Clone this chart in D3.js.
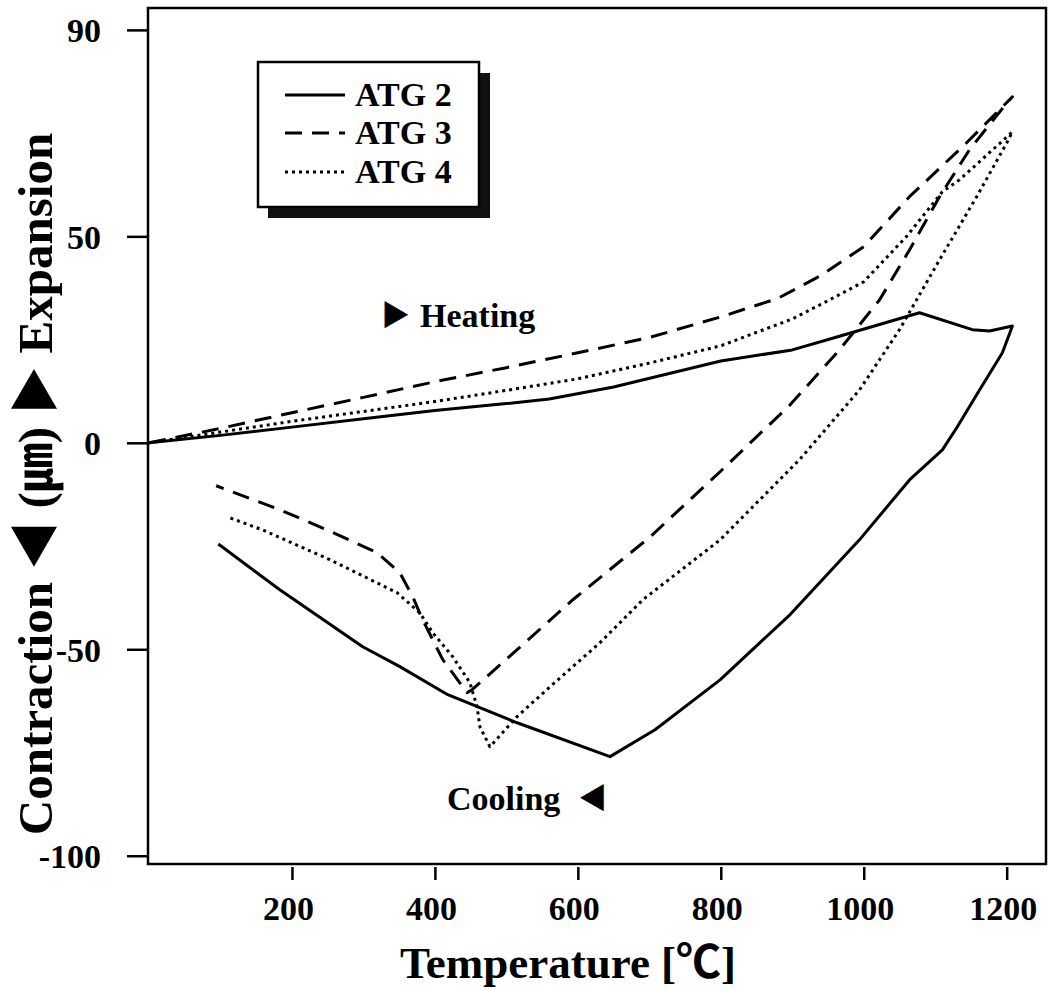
<!DOCTYPE html>
<html>
<head>
<meta charset="utf-8">
<script src="https://cdn.jsdelivr.net/npm/d3@7"></script>
<style>
  html, body { margin: 0; padding: 0; background: #fff; }
  svg { display: block; }
  text { font-family: "Liberation Serif", "Times New Roman", "Noto Sans CJK JP", serif; font-weight: bold; fill: #000; }
</style>
</head>
<body>
<svg id="chart" width="1054" height="991"></svg>
<script>
// ---------------- data ----------------
const xTicks = [200, 400, 600, 800, 1000, 1200];
const xTickLabels = ["200", "400", "600", "800", "1000", "1200"];
const yTicks = [-100, -50, 0, 50, 100];
const yTickLabels = ["-100", "-50", "0", "50", "90"];

const seriesNames = ["ATG 2", "ATG 3", "ATG 4"];

// ATG 2 (solid): [temperature, displacement]
const atg2Heating = [[0,0],[100,1.8],[200,3.8],[300,5.8],[400,7.8],[500,9.5],[560,10.6],[650,13.5],[800,19.8],[900,22.5],[960,25.5],[1078,31.5],[1152,27.4],[1176,27.1],[1208,28.3]];
const atg2Cooling = [[1208,28.3],[1194,21.8],[1162,12.8],[1131,3.9],[1110,-1.7],[1064,-9.0],[994,-23.5],[897,-41.6],[799,-57.4],[708,-69.5],[645,-76.0],[515,-67.8],[418,-61.0],[351,-54.2],[299,-49.4],[183,-35.6],[97,-24.5]];

// ATG 3 (dashed)
const atg3Heating = [[0,0],[100,3.5],[200,7.3],[300,11],[400,14.8],[500,18.2],[600,21.8],[700,25.5],[800,30.5],[880,35],[940,40.5],[1000,47.5],[1064,59.6],[1140,72],[1208,83.8]];
const atg3Cooling = [[1208,83.8],[1196,81.4],[1148,71.0],[1106,59.6],[1064,46.7],[1022,34.6],[966,22.5],[897,9.2],[799,-7.0],[701,-22.8],[593,-38.0],[515,-50.1],[452,-59.8],[445,-60.5],[439,-59.1],[411,-52.5],[383,-42.9],[369,-37.3],[351,-31.5],[319,-26.6],[249,-21.1],[183,-16.2],[94,-10.4]];

// ATG 4 (dotted)
const atg4Heating = [[0,0],[100,2.6],[200,5.2],[300,7.6],[400,10],[500,12.7],[600,15.5],[700,19.3],[800,23.5],[900,30],[952,34.6],[1000,39],[1060,50],[1110,60.8],[1134,63.7],[1208,75.3]];
const atg4Cooling = [[1208,75.3],[1200,72.6],[1158,59.6],[1106,44.3],[1050,27.4],[994,12.8],[910,-4.1],[799,-23.5],[691,-38.0],[631,-48.4],[561,-59.1],[515,-66.3],[477,-73.6],[463,-68.8],[459,-63.9],[449,-58.1],[425,-51.8],[397,-46.0],[379,-41.2],[347,-36.3],[253,-28.3],[159,-21.1],[109,-17.9]];

// ---------------- chart ----------------
const svg = d3.select("#chart");
const mLeft = 148, mRight = 1046, mTop = 8, mBottom = 864;

const x = d3.scaleLinear().domain([0, 1255]).range([mLeft + 1, mRight]);
const y = d3.scaleLinear().domain([-102, 105.3]).range([mBottom, mTop]);

// frame
svg.append("rect")
  .attr("x", mLeft).attr("y", mTop)
  .attr("width", mRight - mLeft).attr("height", mBottom - mTop)
  .attr("fill", "none").attr("stroke", "#000").attr("stroke-width", 2.5);

// y axis
const yAxis = d3.axisLeft(y)
  .tickValues(yTicks)
  .tickFormat((d, i) => yTickLabels[i])
  .tickSizeOuter(0).tickSizeInner(21).tickPadding(26);
const gy = svg.append("g").attr("transform", `translate(${mLeft},0)`).call(yAxis);
gy.select(".domain").remove();
gy.selectAll(".tick line").attr("stroke", "#000").attr("stroke-width", 2.5);
gy.selectAll(".tick text").style("font-size", "34px").attr("fill", "#000").attr("dy", "0.35em");

// x axis
const xAxis = d3.axisBottom(x)
  .tickValues(xTicks)
  .tickFormat((d, i) => xTickLabels[i])
  .tickSizeOuter(0).tickSizeInner(13).tickPadding(16);
const gx = svg.append("g").attr("transform", `translate(0,${mBottom + 3})`).call(xAxis);
gx.select(".domain").remove();
gx.selectAll(".tick line").attr("stroke", "#000").attr("stroke-width", 2.5);
gx.selectAll(".tick text").style("font-size", "34px").attr("fill", "#000").attr("dx", "-4");

// axis titles
svg.append("text")
  .attr("x", 568).attr("y", 978)
  .attr("text-anchor", "middle")
  .style("font-size", "45px")
  .text("Temperature [℃]");

svg.append("text")
  .attr("transform", "translate(52,484) rotate(-90)")
  .attr("text-anchor", "middle")
  .style("font-size", "49px")
  .text("Contraction ◀ (㎛) ▶ Expansion");

// curves
const line = d3.line().x(d => x(d[0])).y(d => y(d[1])).curve(d3.curveLinear);
const styles = [
  { dash: null },
  { dash: "17,10" },
  { dash: "3,4" }
];
const allSeries = [
  atg2Heating.concat(atg2Cooling.slice(1)),
  atg3Heating.concat(atg3Cooling.slice(1)),
  atg4Heating.concat(atg4Cooling.slice(1))
];
svg.append("g").selectAll("path")
  .data(allSeries)
  .join("path")
  .attr("d", d => line(d))
  .attr("fill", "none")
  .attr("stroke", "#000")
  .attr("stroke-width", 3)
  .attr("stroke-linejoin", "round")
  .attr("stroke-dasharray", (d, i) => styles[i].dash);

// annotations
const heat = svg.append("text").attr("x", 381).attr("y", 327).style("font-size", "34px");
heat.append("tspan").style("font-size", "29px").attr("dy", "-1").text("▶");
heat.append("tspan").attr("dx", "10").attr("dy", "1").text("Heating");

const cool = svg.append("text").attr("x", 447).attr("y", 810).style("font-size", "34px");
cool.append("tspan").text("Cooling");
cool.append("tspan").style("font-size", "29px").attr("dx", "18").attr("dy", "-1").text("◀");

// legend
const lg = svg.append("g");
lg.append("rect").attr("x", 268).attr("y", 73).attr("width", 222).attr("height", 145).attr("fill", "#111");
lg.append("rect").attr("x", 258).attr("y", 62).attr("width", 221).attr("height", 145)
  .attr("fill", "#fff").attr("stroke", "#000").attr("stroke-width", 2.5);
const legRows = [95, 133, 172];
seriesNames.forEach((name, i) => {
  lg.append("line")
    .attr("x1", 285).attr("x2", 345)
    .attr("y1", legRows[i]).attr("y2", legRows[i])
    .attr("stroke", "#000").attr("stroke-width", 3)
    .attr("stroke-dasharray", styles[i].dash);
  lg.append("text")
    .attr("x", 355).attr("y", legRows[i] + 11)
    .style("font-size", "34px")
    .text(name);
});
</script>
</body>
</html>
